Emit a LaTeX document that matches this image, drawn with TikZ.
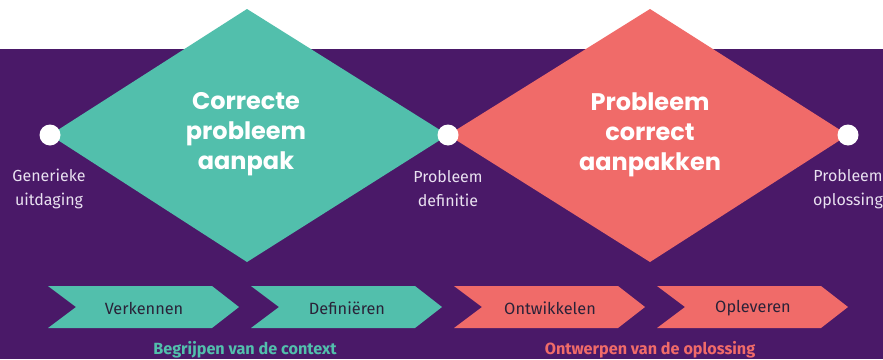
\documentclass[tikz,border=0pt]{standalone}
\usepackage{fontspec}
\setmainfont{Fira Sans}
\newfontfamily\titlefont{Poppins}
\definecolor{bgpurple}{HTML}{4A1968}
\definecolor{teal}{HTML}{52BFAC}
\definecolor{salmon}{HTML}{F06B69}
\definecolor{lavtext}{HTML}{E9E1F0}
\definecolor{darktext}{HTML}{2A2238}
\tikzset{
  titletext/.style={text=white, align=center, font=\titlefont\bfseries\fontsize{24}{30}\selectfont},
  sidelabel/.style={text=lavtext, align=center, font=\fontsize{16}{24}\selectfont},
  dotnode/.style={circle, fill=white, minimum size=21pt, inner sep=0pt},
  chevtext/.style={text=darktext, font=\fontsize{16.3}{18}\selectfont},
  phasetext/.style={font=\bfseries\fontsize{16.2}{18}\selectfont},
}
\begin{document}
\begin{tikzpicture}[x=1pt,y=-1pt]
\useasboundingbox (0,0) rectangle (883,359);
\fill[white] (0,0) rectangle (883,359);
\fill[bgpurple] (0,49) rectangle (883,359);
\begin{scope}
\clip (0,0) rectangle (883,359);
% diamonds
\coordinate (dL) at (50,135);
\coordinate (dM) at (448,135);
\coordinate (dR) at (848,135);
\fill[teal] (dL) -- (247,9) -- (dM) -- (247,262) -- cycle;
\fill[salmon] (dM) -- (650,9) -- (dR) -- (650,262) -- cycle;
\node[titletext] (t1) at (246,134.5) {Correcte\\probleem\\aanpak};
\node[titletext] (t2) at (650,134.5) {Probleem\\correct\\aanpakken};
% dots
\node[dotnode] (c1) at (dL) {};
\node[dotnode] (c2) at (dM) {};
\node[dotnode] (c3) at (dR) {};
\node[sidelabel] (l1) at (49,189) {Generieke\\uitdaging};
\node[sidelabel] (l2) at (448,189) {Probleem\\definitie};
\node[sidelabel] (l3) at (848,189) {Probleem\\oplossing};
% chevrons
\foreach \x/\col/\txt/\nm in {48/teal/Verkennen/v1, 251/teal/Definiëren/v2, 454/salmon/Ontwikkelen/v3, 657/salmon/Opleveren/v4}{
  \fill[\col] (\x,286) -- (\x+164,286) -- (\x+191,307) -- (\x+164,328) -- (\x,328) -- (\x+28,307) -- cycle;
  \node[chevtext] (\nm) at (\x+96,308) {\txt};
}
\node[phasetext, text=teal] (p1) at (245,350) {Begrijpen van de context};
\node[phasetext, text=salmon] (p2) at (650,350) {Ontwerpen van de oplossing};
\end{scope}
\end{tikzpicture}
\end{document}
